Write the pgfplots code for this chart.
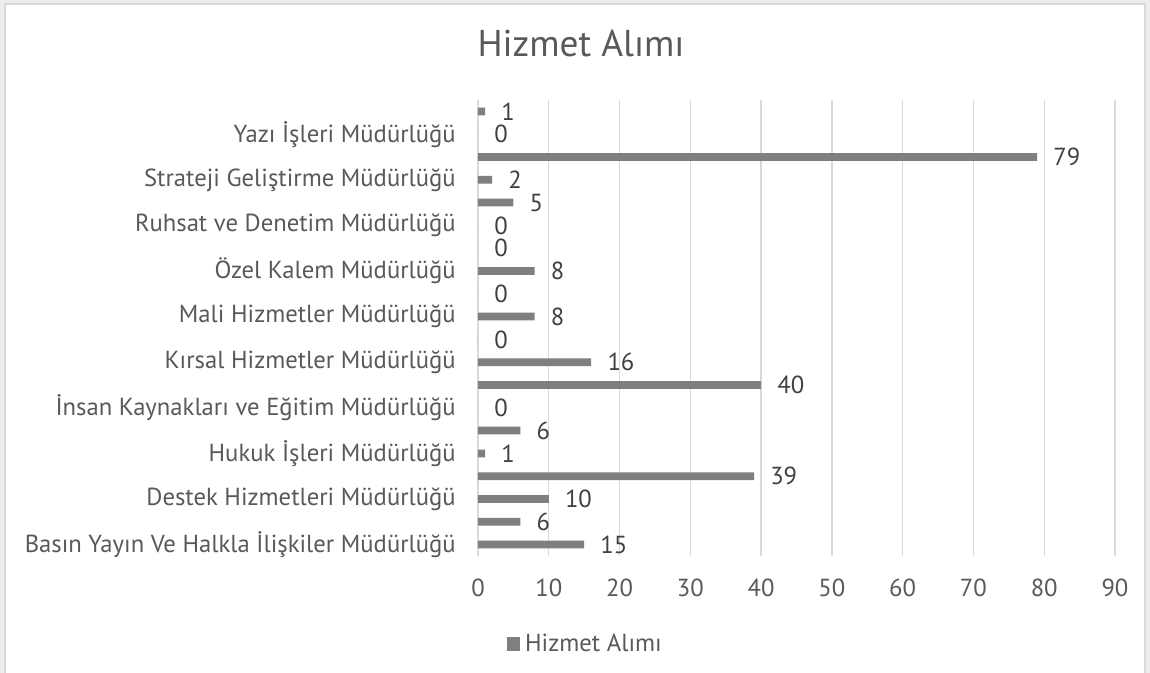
\documentclass[border=0pt]{standalone}
\usepackage{pgfplots}
\pgfplotsset{compat=1.18}
\usepackage{fontspec}
\setmainfont{PT Sans}
\definecolor{barc}{HTML}{7F7F7F}
\definecolor{txt}{HTML}{595959}
\definecolor{dtxt}{HTML}{404040}
\definecolor{gridc}{HTML}{D9D9D9}
\begin{document}
\begin{tikzpicture}
\begin{scope}[x=0.75pt,y=-0.75pt]
\path[use as bounding box] (0,0) rectangle (1150,673);
\fill[black!7] (0,0) rectangle (1150,673);
\fill[white] (5,4) rectangle (1145,690);
\draw[gridc, line width=1.5pt] (5,690) -- (5,4) -- (1145,4) -- (1145,690);
\end{scope}
\node[anchor=base, font=\fontsize{28}{28}\selectfont, color=txt] at (435.75pt,-42.75pt) {Hizmet Alımı};
\begin{axis}[
  at={(358.5pt,-75pt)}, anchor=north west,
  scale only axis, width=477.75pt, height=342pt,
  xbar, bar width=5.8pt, bar shift=0pt,
  xmin=0, xmax=90, ymin=-0.5, ymax=19.5,
  xtick={0,10,...,90},
  ytick={0,2,...,18},
  yticklabels={Basın Yayın Ve Halkla İlişkiler Müdürlüğü, Destek Hizmetleri Müdürlüğü, Hukuk İşleri Müdürlüğü, İnsan Kaynakları ve Eğitim Müdürlüğü, Kırsal Hizmetler Müdürlüğü, Mali Hizmetler Müdürlüğü, Özel Kalem Müdürlüğü, Ruhsat ve Denetim Müdürlüğü, Strateji Geliştirme Müdürlüğü, Yazı İşleri Müdürlüğü},
  /pgf/number format/assume math mode=true,
  axis line style={draw=none},
  major tick length=0pt,
  xmajorgrids, grid style={gridc, line width=1pt},
  tick label style={font=\fontsize{18.5}{18.5}\selectfont, color=txt},
  yticklabel style={anchor=east, inner sep=0pt, xshift=-16.5pt},
  xticklabel style={anchor=center, inner sep=0pt, yshift=-24pt},
  nodes near coords,
  nodes near coords style={anchor=west, inner sep=0pt, xshift=12pt, font=\fontsize{18.5}{18.5}\selectfont, color=dtxt},
  legend style={at={(0.171,-0.193)}, anchor=center, draw=none, fill=none, font=\fontsize{18.5}{18.5}\selectfont, text=txt, inner sep=0pt, nodes={inner sep=3.5pt}},
  legend image code/.code={\fill[barc] (0pt,-4.9pt) rectangle (9.8pt,4.9pt);},
]
\addplot[fill=barc, draw=none] coordinates {
(15,0) (6,1) (10,2) (39,3) (1,4) (6,5) (0,6) (40,7) (16,8) (0,9)
(8,10) (0,11) (8,12) (0,13) (0,14) (5,15) (2,16) (79,17) (0,18) (1,19)
};
\addlegendentry{Hizmet Alımı}
\end{axis}
\end{tikzpicture}
\end{document}
